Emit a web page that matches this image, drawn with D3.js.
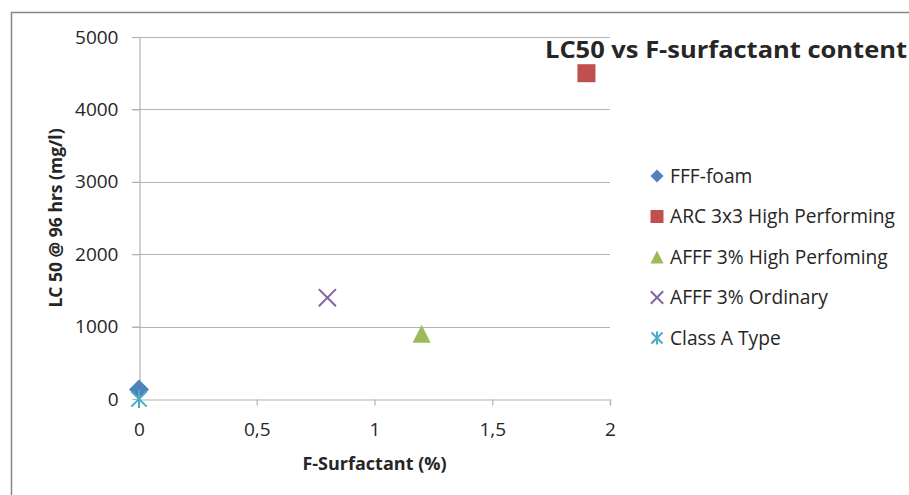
<!DOCTYPE html>
<html>
<head>
<meta charset="utf-8">
<script src="https://cdn.jsdelivr.net/npm/d3@7"></script>
<style>
  html, body { margin: 0; padding: 0; background: #fff; }
  svg { display: block; }
  text { font-family: "Open Sans", "Liberation Sans", sans-serif; fill: #262626; }
</style>
</head>
<body>
<svg id="chart" width="909" height="495"></svg>
<script>
// ---- data ----
const seriesNames = ["FFF-foam", "ARC 3x3 High Performing", "AFFF 3% High Perfoming", "AFFF 3% Ordinary", "Class A Type"];
const xValues = [0, 1.9, 1.2, 0.8, 0];
const yValues = [130, 4500, 900, 1400, 0];
const seriesColors = ["#4f81bd", "#c0504d", "#9bbb59", "#8064a2", "#4bacc6"];
const seriesMarkers = ["diamond", "square", "triangle", "x", "asterisk"];
const xTicks = [0, 0.5, 1, 1.5, 2];
const yTicks = [0, 1000, 2000, 3000, 4000, 5000];
const titleText = "LC50 vs F-surfactant content";
const xTitle = "F-Surfactant (%)";
const yTitle = "LC 50 @ 96 hrs (mg/l)";

// ---- layout ----
const svg = d3.select("#chart");
const plot = { left: 139, right: 610, top: 37, bottom: 399 };

// chart frame
svg.append("rect")
  .attr("x", 11.5).attr("y", 12.5)
  .attr("width", 1000).attr("height", 1000)
  .attr("fill", "#fff").attr("stroke", "#868686").attr("stroke-width", 1.5);

const x = d3.scaleLinear().domain([0, 2]).range([plot.left, plot.right]);
const y = d3.scaleLinear().domain([0, 5000]).range([plot.bottom, plot.top]);

const fmtX = v => String(v).replace(".", ",");

// gridlines
svg.append("g")
  .selectAll("line").data(yTicks.filter(d => d > 0)).join("line")
  .attr("x1", plot.left - 7).attr("x2", plot.right)
  .attr("y1", d => Math.round(y(d)) + 0.5).attr("y2", d => Math.round(y(d)) + 0.5)
  .attr("stroke", "#b3b3b3").attr("stroke-width", 1.2);

// y axis
const yAxis = svg.append("g")
  .attr("transform", `translate(${plot.left + 0.5},0)`)
  .call(d3.axisLeft(y).tickValues(yTicks).tickSize(7).tickPadding(14).tickFormat(d3.format("d")));
yAxis.select(".domain").attr("stroke", "#b3b3b3").attr("stroke-width", 1.2);
yAxis.selectAll(".tick line").attr("stroke", "#b3b3b3").attr("stroke-width", 1.2);
yAxis.selectAll(".tick text").style("font-size", "19px").attr("fill", "#262626")
  .style("font-family", "'Open Sans', sans-serif");

// x axis
const xAxis = svg.append("g")
  .attr("transform", `translate(0,${plot.bottom + 0.5})`)
  .call(d3.axisBottom(x).tickValues(xTicks).tickSize(6).tickPadding(17).tickFormat(fmtX));
xAxis.select(".domain").attr("stroke", "#b3b3b3").attr("stroke-width", 1.2);
xAxis.selectAll(".tick line").attr("stroke", "#b3b3b3").attr("stroke-width", 1.2);
xAxis.selectAll(".tick text").style("font-size", "19px").attr("fill", "#262626")
  .style("font-family", "'Open Sans', sans-serif");

// marker drawing
function drawMarker(g, type, color, s) {
  const h = s / 2;
  if (type === "diamond") {
    g.append("path").attr("d", `M0,${-h}L${h},0L0,${h}L${-h},0Z`).attr("fill", color);
  } else if (type === "square") {
    g.append("rect").attr("x", -h).attr("y", -h).attr("width", s).attr("height", s).attr("fill", color);
  } else if (type === "triangle") {
    g.append("path").attr("d", `M0,${-h}L${h},${h}L${-h},${h}Z`).attr("fill", color);
  } else if (type === "x") {
    const k = h * 0.95;
    g.append("path").attr("d", `M${-k},${-k}L${k},${k}M${-k},${k}L${k},${-k}`)
      .attr("stroke", color).attr("stroke-width", 2).attr("fill", "none");
  } else if (type === "asterisk") {
    const k = h * 0.85;
    g.append("path").attr("d", `M${-k},${-k}L${k},${k}M${-k},${k}L${k},${-k}M0,${-h}L0,${h}`)
      .attr("stroke", color).attr("stroke-width", 2).attr("fill", "none");
  }
}

// points
const pts = seriesNames.map((n, i) => ({ name: n, x: xValues[i], y: yValues[i], color: seriesColors[i], marker: seriesMarkers[i] }));
const pg = svg.append("g");
pts.forEach(p => {
  const g = pg.append("g").attr("transform", `translate(${x(p.x)},${y(p.y)})`);
  drawMarker(g, p.marker, p.color, p.marker === "diamond" ? 20 : 18);
});

// title
svg.append("text")
  .attr("x", 545).attr("y", 58)
  .attr("textLength", 362).attr("lengthAdjust", "spacingAndGlyphs")
  .style("font-size", "23px").style("font-weight", "bold").attr("fill", "#000")
  .text(titleText);

// axis titles
svg.append("text")
  .attr("x", (plot.left + plot.right) / 2).attr("y", 470)
  .attr("text-anchor", "middle")
  .style("font-size", "18px").style("font-weight", "bold").attr("fill", "#000")
  .text(xTitle);

svg.append("text")
  .attr("transform", `translate(62,${(plot.top + plot.bottom) / 2}) rotate(-90)`)
  .attr("text-anchor", "middle")
  .style("font-size", "17.5px").style("font-weight", "bold").attr("fill", "#000")
  .text(yTitle);

// legend
const lg = svg.append("g");
pts.forEach((p, i) => {
  const cy = 176 + i * 40.5;
  const g = lg.append("g").attr("transform", `translate(657,${cy})`);
  drawMarker(g, p.marker, p.color, 13);
  lg.append("text").attr("x", 670).attr("y", cy).attr("dy", "0.35em")
    .style("font-size", "19.2px").text(p.name);
});
</script>
</body>
</html>
